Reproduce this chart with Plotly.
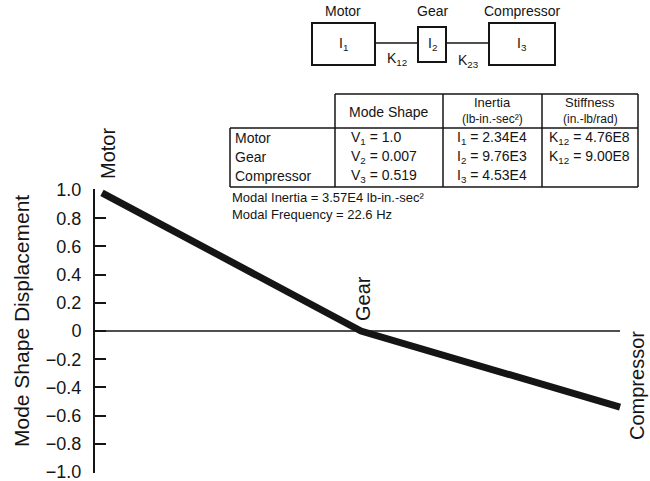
import plotly.graph_objects as go

# ---------------- data ----------------
components = ["Motor", "Gear", "Compressor"]
positions = [0, 1, 2]
displacement = [0.98, 0.0, -0.54]          # plotted mode shape
mode_shape_txt = ["1.0", "0.007", "0.519"]
inertia_txt = ["2.34E4", "9.76E3", "4.53E4"]
stiffness_lbl = ["12", "12"]
stiffness_txt = ["4.76E8", "9.00E8"]
modal_inertia = "3.57E4"
modal_frequency = "22.6"
ytick_vals = [1.0, 0.8, 0.6, 0.4, 0.2, 0.0, -0.2, -0.4, -0.6, -0.8, -1.0]
ytick_text = ["1.0", "0.8", "0.6", "0.4", "0.2", "0", "\u22120.2", "\u22120.4",
              "\u22120.6", "\u22120.8", "\u22121.0"]

# ---------------- layout geometry (pixels) ----------------
L, R, T, B = 95, 640, 189, 473
W, H = R - L, B - T
XR = [-0.027, 2.077]
YR = [-1.007, 1.007]

def px(x):
    return (x - L) / W

def py(y):
    return (B - y) / H

FONT = "Liberation Sans, Arial, Helvetica, sans-serif"
INK = "#151515"

fig = go.Figure()

# zero reference line (from axis to last component)
fig.add_trace(go.Scatter(x=[XR[0], positions[-1]], y=[0, 0], mode="lines",
                         line=dict(color=INK, width=1.6), hoverinfo="skip",
                         showlegend=False))
# mode shape line
fig.add_trace(go.Scatter(x=positions, y=displacement, mode="lines",
                         line=dict(color=INK, width=7), showlegend=False,
                         text=components))

shapes = []
ann = []

def text(x, y, s, size=14, xanchor="center", yanchor="middle", angle=0):
    ann.append(dict(x=px(x), y=py(y), xref="paper", yref="paper", text=s,
                    showarrow=False, xanchor=xanchor, yanchor=yanchor,
                    textangle=angle, font=dict(family=FONT, size=size, color=INK)))

def line(x0, y0, x1, y1, w=1.5):
    shapes.append(dict(type="line", xref="paper", yref="paper",
                       x0=px(x0), y0=py(y0), x1=px(x1), y1=py(y1),
                       line=dict(color=INK, width=w)))

def rect(x0, y0, x1, y1, w=2):
    shapes.append(dict(type="rect", xref="paper", yref="paper",
                       x0=px(x0), y0=py(y0), x1=px(x1), y1=py(y1),
                       line=dict(color=INK, width=w)))

# ---------- schematic at top ----------
rect(312, 23, 375, 65)
rect(418, 27, 446, 62)
rect(489, 23, 555, 65)
line(375, 43, 418, 43, 1.5)
line(446, 43, 489, 43, 1.5)
text(343, 11, components[0], 14)
text(432, 11, components[1], 14)
text(522, 11, components[2], 14)
text(343, 44, "I<sub>1</sub>", 14)
text(432, 44, "I<sub>2</sub>", 14)
text(522, 44, "I<sub>3</sub>", 14)
text(397, 59, "K<sub>12</sub>", 14)
text(468, 61, "K<sub>23</sub>", 14)

# ---------- table ----------
cx = [230, 335, 443, 542, 638]
ty, hy, by = 94, 128, 187
line(cx[1], ty, cx[4], ty)
line(cx[0], hy, cx[4], hy)
line(cx[0], by, cx[4], by)
line(cx[0], hy, cx[0], by)
for xv in cx[1:]:
    line(xv, ty, xv, by)

text((cx[1] + cx[2]) / 2, 112, "Mode Shape", 14)
text((cx[2] + cx[3]) / 2, 102, "Inertia", 13)
text((cx[2] + cx[3]) / 2, 119, "(lb-in.-sec\u00b2)", 12)
text((cx[3] + cx[4]) / 2, 102, "Stiffness", 13)
text((cx[3] + cx[4]) / 2, 119, "(in.-lb/rad)", 12)

row_y = [138, 157, 176]
for i, name in enumerate(components):
    text(233, row_y[i], name, 14, xanchor="left")
    text(349, row_y[i], f"V<sub>{i+1}</sub> = {mode_shape_txt[i]}", 14, xanchor="left")
    text(455, row_y[i], f"I<sub>{i+1}</sub> = {inertia_txt[i]}", 14, xanchor="left")
for i, (k, v) in enumerate(zip(stiffness_lbl, stiffness_txt)):
    text(547, row_y[i], f"K<sub>{k}</sub> = {v}", 14, xanchor="left")

text(230, 197, f"Modal Inertia = {modal_inertia} lb-in.-sec\u00b2", 13, xanchor="left")
text(230, 214, f"Modal Frequency = {modal_frequency} Hz", 13, xanchor="left")

# ---------- component labels on the plot ----------
text(108, 154, components[0], 20, angle=-90)
text(363, 299, components[1], 20, angle=-90)
text(637, 386, components[2], 20, angle=-90)

# y-axis title
text(21, 321, "Mode Shape Displacement", 21, angle=-90)

fig.update_layout(
    width=650, height=481,
    margin=dict(l=L, r=650 - R, t=T, b=481 - B, pad=0),
    paper_bgcolor="white", plot_bgcolor="white",
    shapes=shapes, annotations=ann,
    xaxis=dict(range=XR, visible=False, fixedrange=True),
    yaxis=dict(range=YR, tickvals=ytick_vals, ticktext=ytick_text,
               showgrid=False, zeroline=False, showline=True,
               linecolor=INK, linewidth=2, ticks="inside", ticklen=11,
               tickwidth=2, tickcolor=INK, ticklabelstandoff=8,
               ticklabeloverflow="allow", automargin=False,
               tickfont=dict(family=FONT, size=18, color=INK)),
    font=dict(family=FONT, color=INK),
)

fig.write_html("out.html")
